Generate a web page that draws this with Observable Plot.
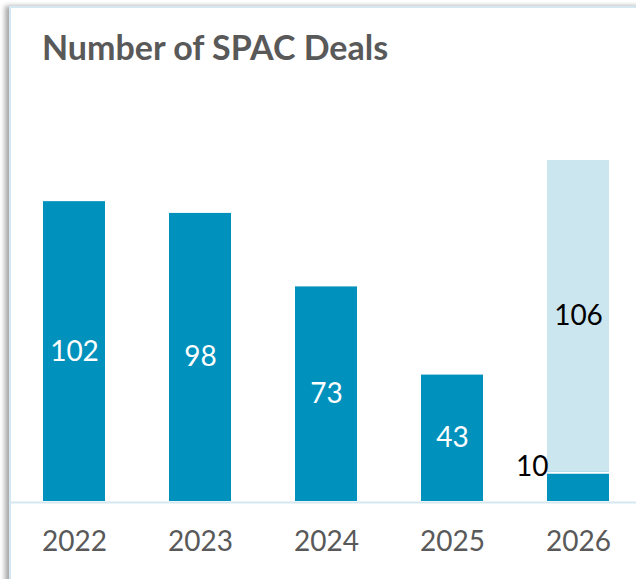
<!DOCTYPE html>
<html>
<head>
<meta charset="utf-8">
<script src="https://cdn.jsdelivr.net/npm/d3@7"></script>
<script src="https://cdn.jsdelivr.net/npm/@observablehq/plot@0.6"></script>
<style>
  html, body { margin: 0; padding: 0; background: #fff; }
  #wrap { position: relative; width: 636px; height: 579px; overflow: hidden; background: #fff; }
  #frame { position: absolute; left: 9px; top: 6px; width: 660px; height: 620px;
           border-top: 2px solid #d5e8f1; border-left: 2px solid #d5e8f1;
           box-shadow: -4px 0 5px rgba(0,0,0,0.35); background: #fff; }
  #title { position: absolute; left: 42px; top: 26px; font-family: Lato, sans-serif; font-weight: 700;
           font-size: 34px; color: #595959; white-space: nowrap; }
  #chart { position: absolute; left: 0; top: 0; }
  svg text { font-family: Lato, sans-serif; }
</style>
</head>
<body>
<div id="wrap">
  <div id="frame"></div>
  <div id="title">Number of SPAC Deals</div>
  <div id="chart"></div>
</div>
<script>
const years = ["2022", "2023", "2024", "2025", "2026"];
const actualDeals = [102, 98, 73, 43, 10];
const projectedDeals = [0, 0, 0, 0, 106];

const dark = "#0091bd";
const light = "#cbe6ef";

const actual = years.map((year, i) => ({year, value: actualDeals[i]}));
const projected = years.map((year, i) => ({year, base: actualDeals[i], top: actualDeals[i] + projectedDeals[i], value: projectedDeals[i]}))
  .filter(d => d.value > 0);
const insideLabels = actual.filter(d => d.value >= 20);
const outsideLabels = actual.filter(d => d.value < 20);

const chart = Plot.plot({
  width: 636,
  height: 579,
  marginLeft: 10,
  marginRight: 0,
  marginTop: 0,
  marginBottom: 78,
  x: {domain: years, range: [10.35, 642], paddingInner: 0.51, paddingOuter: 0.25, label: null},
  y: {domain: [0, 116], range: [501, 160], axis: null},
  marks: [
    Plot.barY(actual, {x: "year", y: "value", fill: dark}),
    Plot.barY(projected, {x: "year", y1: "base", y2: "top", fill: light}),
    Plot.tickY(projected, {x: "year", y: "base", stroke: "white", strokeWidth: 1.6, dy: 0.8}),
    Plot.ruleY([0], {stroke: "#d5e8f1", strokeWidth: 2, dy: 1}),
    Plot.text(insideLabels, {x: "year", y: d => d.value / 2, text: d => String(d.value), fill: "white", fontSize: 28}),
    Plot.text(outsideLabels, {x: "year", y: "value", text: d => String(d.value), fill: "black", fontSize: 28, dx: -30, dy: -5, textAnchor: "end"}),
    Plot.text(projected, {x: "year", y: d => (d.base + d.top) / 2, text: d => String(d.value), fill: "black", fontSize: 28}),
    Plot.axisX({tickSize: 0, tickPadding: 30, fontSize: 28, color: "#595959", anchor: "bottom"})
  ]
});
chart.style.background = "transparent";
chart.style.overflow = "visible";
document.getElementById("chart").appendChild(chart);
</script>
</body>
</html>
